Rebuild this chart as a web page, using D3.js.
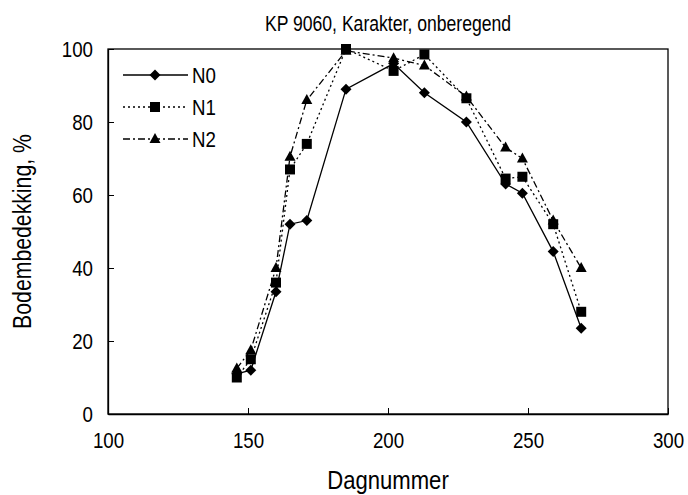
<!DOCTYPE html>
<html><head><meta charset="utf-8">
<script src="https://cdn.jsdelivr.net/npm/d3@7"></script>
<style>body{margin:0;background:#fff}svg text{font-family:"Liberation Sans",Arial,sans-serif;fill:#000}</style>
</head><body><svg id="c" width="688" height="495"></svg>
<script>
const days = [146, 151, 160, 165, 171, 185, 202, 213, 228, 242, 248, 259, 269];
const N0 = [11, 12, 33.5, 52, 53, 89, 96, 88, 80, 63, 60.5, 44.5, 23.5];
const N1 = [10, 15, 36, 67, 74, 100, 94, 98.5, 86.5, 64.5, 65, 52, 28];
const N2 = [12.5, 17.5, 40, 70.5, 86, 99.5, 97.5, 95.5, 87, 73, 70, 53, 40];
const seriesNames = ["N0", "N1", "N2"];
const xTicks = [100, 150, 200, 250, 300];
const yTicks = [0, 20, 40, 60, 80, 100];

const K = 0.85; // horizontal condensing to mimic narrow face
const svg = d3.select("#c");
const L = 108, R = 668, T = 49, B = 414;
const x = d3.scaleLinear().domain([100, 300]).range([L, R]);
const y = d3.scaleLinear().domain([0, 100]).range([B, T]);

svg.append("rect").attr("x", L).attr("y", T).attr("width", R - L).attr("height", B - T)
  .attr("fill", "none").attr("stroke", "#000").attr("stroke-width", 1.3);

const xa = svg.append("g").attr("transform", `translate(0,${B})`)
  .call(d3.axisBottom(x).tickValues(xTicks).tickSizeInner(-6).tickSizeOuter(0).tickPadding(18));
const ya = svg.append("g").attr("transform", `translate(${L},0)`)
  .call(d3.axisLeft(y).tickValues(yTicks).tickSizeInner(-6).tickSizeOuter(0).tickPadding(15));
[xa, ya].forEach(a => {
  a.select(".domain").attr("stroke", "#000").attr("stroke-width", 1.3);
  a.selectAll(".tick line").attr("stroke", "#000");
  a.selectAll(".tick text").style("font-size", "22px").attr("font-family", null)
    .each(function() {
      const t = d3.select(this), tx = +t.attr("x") || 0, ty = +t.attr("y") || 0;
      t.attr("x", 0).attr("y", 0).attr("transform", `translate(${tx},${ty}) scale(${K},1)`);
    });
});
xa.selectAll(".tick text").attr("dy", "0.72em");

svg.append("text").attr("transform", `translate(${(L + R) / 2},31) scale(0.8,1)`).attr("text-anchor", "middle")
  .style("font-size", "22px").text("KP 9060, Karakter, onberegend");
svg.append("text").attr("transform", `translate(${(L + R) / 2},489) scale(${K},1)`).attr("text-anchor", "middle")
  .style("font-size", "26px").text("Dagnummer");
svg.append("text").attr("transform", `translate(31,${(T + B) / 2}) rotate(-90) scale(${K},1)`).attr("text-anchor", "middle")
  .style("font-size", "25px").text("Bodembedekking, %");

const styles = [
  {data: N0, dash: null, marker: "M0,-5.5L5.5,0L0,5.5L-5.5,0Z"},
  {data: N1, dash: "2,3", marker: "M-5,-5L5,-5L5,5L-5,5Z"},
  {data: N2, dash: "7,3,2,3", marker: "M0,-6L5.5,4L-5.5,4Z"}
];
const line = d3.line().x(d => x(d[0])).y(d => y(d[1]));
styles.forEach((s, i) => {
  const pts = days.map((d, j) => [d, s.data[j]]);
  svg.append("path").attr("d", line(pts)).attr("fill", "none").attr("stroke", "#000")
    .attr("stroke-width", 1.3).attr("stroke-dasharray", s.dash);
  svg.append("g").selectAll("path").data(pts).join("path")
    .attr("transform", d => `translate(${x(d[0])},${y(d[1])})`).attr("d", s.marker).attr("fill", "#000");
});

const legY = [75, 107, 139];
styles.forEach((s, i) => {
  svg.append("line").attr("x1", 123).attr("x2", 188).attr("y1", legY[i]).attr("y2", legY[i])
    .attr("stroke", "#000").attr("stroke-width", 1.3).attr("stroke-dasharray", s.dash);
  svg.append("path").attr("transform", `translate(155,${legY[i]})`).attr("d", s.marker).attr("fill", "#000");
  svg.append("text").attr("transform", `translate(192,${legY[i]}) scale(${K},1)`).attr("dy", "0.36em")
    .style("font-size", "22px").text(seriesNames[i]);
});
</script></body></html>
